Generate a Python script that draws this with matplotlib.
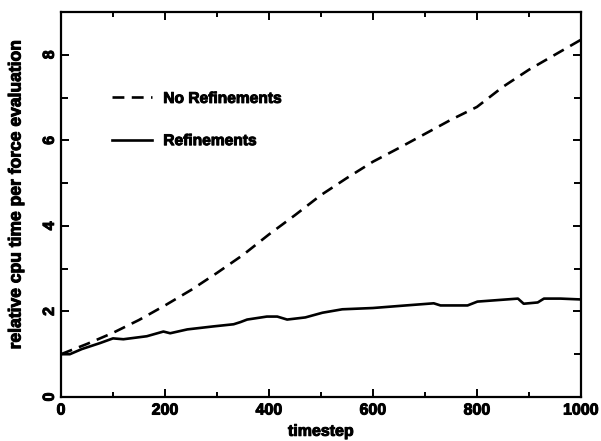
import numpy as np
import matplotlib
matplotlib.use("Agg")
from matplotlib import pyplot as plt
from matplotlib import patheffects
from matplotlib.ticker import MultipleLocator

# timestep samples for the run without refinements
steps_norefine = [0, 50, 100, 150, 200, 250, 300, 350, 400, 450, 500,
                  550, 600, 650, 700, 750, 800, 850, 900, 950, 1000]
cpu_norefine = [1.0, 1.24, 1.5, 1.8, 2.14, 2.5, 2.9, 3.32, 3.8, 4.25, 4.72,
                5.12, 5.5, 5.82, 6.15, 6.48, 6.78, 7.25, 7.65, 8.0, 8.35]

# timestep samples for the run with refinements
steps_refine = [0, 17, 40, 75, 100, 120, 165, 197, 210, 243, 293, 332, 345,
                358, 396, 416, 435, 470, 503, 541, 600, 663, 717, 730, 782,
                801, 879, 890, 917, 929, 961, 1000]
cpu_refine = [1.0, 1.0, 1.12, 1.26, 1.37, 1.35, 1.42, 1.53, 1.49, 1.58, 1.65,
              1.70, 1.75, 1.81, 1.88, 1.88, 1.81, 1.86, 1.97, 2.05, 2.08, 2.14,
              2.19, 2.14, 2.14, 2.23, 2.30, 2.18, 2.21, 2.30, 2.30, 2.28]

plt.rcParams['font.family'] = ['Liberation Sans', 'DejaVu Sans']
plt.rcParams['font.weight'] = 'bold'

# thicken the glyphs a little
heavy = [patheffects.withStroke(linewidth=0.7, foreground='black')]

fig = plt.figure(figsize=(6.01, 4.41), dpi=100)
ax = fig.add_axes([0.1015, 0.0998, 0.865, 0.873])

ax.plot(steps_norefine, cpu_norefine, color='black', lw=1.9,
        linestyle=(0, (4.5, 2.8)), label='No Refinements')
ax.plot(steps_refine, cpu_refine, color='black', lw=1.9, label='Refinements')

ax.set_xlim(0, 1000)
ax.set_ylim(0, 9)
ax.xaxis.set_major_locator(MultipleLocator(200))
ax.xaxis.set_minor_locator(MultipleLocator(100))
ax.yaxis.set_major_locator(MultipleLocator(2))
ax.yaxis.set_minor_locator(MultipleLocator(1))

for s in ax.spines.values():
    s.set_linewidth(1.6)
ax.tick_params(which='both', direction='in', top=True, right=True, width=1.4,
               labelsize=11.5)
ax.tick_params(which='major', length=6)
ax.tick_params(axis='x', which='minor', length=3.5)
ax.tick_params(axis='y', which='minor', length=5)
ax.tick_params(axis='x', pad=4)
ax.tick_params(axis='y', pad=3)
for lab in ax.get_yticklabels():
    lab.set_rotation(90)
    lab.set_va('center')
for lab in ax.get_xticklabels() + ax.get_yticklabels():
    lab.set_path_effects(heavy)

ax.set_xlabel('timestep', fontsize=11.5, fontweight='bold', labelpad=4.5,
              path_effects=heavy)
ax.set_ylabel('relative cpu time per force evaluation', fontsize=12.6,
              fontweight='bold', path_effects=heavy)
ax.yaxis.set_label_coords(-0.072, 0.525)

leg = ax.legend(loc='upper left', bbox_to_anchor=(0.098, 0.795), frameon=False,
                fontsize=11.2, handlelength=2.6, handletextpad=0.7,
                labelspacing=1.75, borderpad=0, borderaxespad=0)
for t in leg.get_texts():
    t.set_path_effects(heavy)

fig.savefig('out.png', dpi=100)
